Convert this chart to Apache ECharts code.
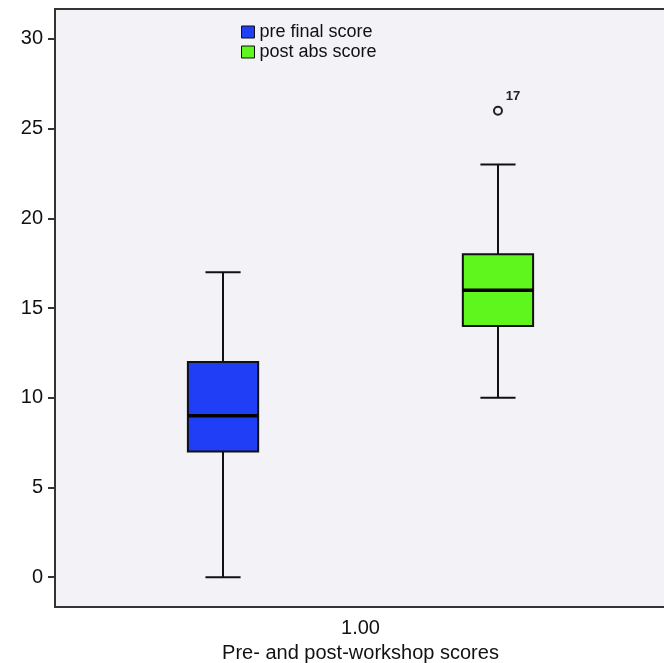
<!DOCTYPE html>
<html>
<head>
<meta charset="utf-8">
<script src="https://cdn.jsdelivr.net/npm/echarts@6/dist/echarts.min.js"></script>
<style>
html,body{margin:0;padding:0;background:#ffffff;}
#chart{width:664px;height:663px;}
</style>
</head>
<body>
<div id="chart"></div>
<script>
// ---- data ----
const xCategories = ['1.00'];
const seriesNames = ['pre final score', 'post abs score'];
// [min, Q1, median, Q3, max]
const preScores = [0, 7, 9, 12, 17];
const postScores = [10, 14, 16, 18, 23];
const outlierGroups = [1];
const outlierValues = [26];
const outlierLabels = ['17'];
const yTicks = [0, 5, 10, 15, 20, 25, 30];

// ---- layout / style constants ----
const GROUP_SHIFT = [-0.225, 0.225];
const BOX_FRAC = 0.115;
const COLORS = ['#1f3ef6', '#5ef61c'];
const FONT = 'Liberation Sans, Arial, sans-serif';

function boxRender(shift) {
  return function (params, api) {
    const cat = api.value(0);
    const band = api.size([1, 0])[0];
    const cx = api.coord([cat, 0])[0] + shift * band;
    const w = band * BOX_FRAC;
    const yy = v => api.coord([cat, v])[1];
    const yMin = yy(api.value(1)), yQ1 = yy(api.value(2)), yMed = yy(api.value(3)),
          yQ3 = yy(api.value(4)), yMax = yy(api.value(5));
    const ls = {stroke: '#111', lineWidth: 2};
    return {
      type: 'group',
      children: [
        {type: 'line', shape: {x1: cx, y1: yMax, x2: cx, y2: yQ3}, style: ls},
        {type: 'line', shape: {x1: cx, y1: yQ1, x2: cx, y2: yMin}, style: ls},
        {type: 'line', shape: {x1: cx - w / 4, y1: yMax, x2: cx + w / 4, y2: yMax}, style: ls},
        {type: 'line', shape: {x1: cx - w / 4, y1: yMin, x2: cx + w / 4, y2: yMin}, style: ls},
        {type: 'rect', shape: {x: cx - w / 2, y: yQ3, width: w, height: yQ1 - yQ3},
          style: {fill: api.visual('color'), stroke: '#111', lineWidth: 2}},
        {type: 'line', shape: {x1: cx - w / 2, y1: yMed, x2: cx + w / 2, y2: yMed},
          style: {stroke: '#000', lineWidth: 3.5}}
      ]
    };
  };
}

function outlierRender(params, api) {
  const g = api.value(0);
  const band = api.size([1, 0])[0];
  const p = api.coord([0, api.value(1)]);
  const cx = p[0] + GROUP_SHIFT[g] * band;
  return {
    type: 'group',
    children: [
      {type: 'circle', shape: {cx: cx, cy: p[1], r: 4}, style: {fill: 'none', stroke: '#222', lineWidth: 2}},
      {type: 'text', x: cx + 15, y: p[1] - 14,
        style: {text: outlierLabels[params.dataIndex], fill: '#222', font: 'bold 13px ' + FONT,
          align: 'center', verticalAlign: 'middle'}}
    ]
  };
}

const chart = echarts.init(document.getElementById('chart'), null, {renderer: 'canvas'});
chart.setOption({
  animation: false,
  backgroundColor: '#ffffff',
  grid: {left: 55, right: -2, top: 9, bottom: 56, show: true, containLabel: false,
    outerBoundsMode: 'none',
    backgroundColor: '#f2f2f7', borderColor: '#333', borderWidth: 2},
  legend: {
    orient: 'vertical', left: 236, top: 18,
    itemWidth: 13, itemHeight: 12, itemGap: 2,
    icon: 'rect',
    textStyle: {fontSize: 18, lineHeight: 18, color: '#111', fontFamily: FONT},
    data: seriesNames.map(n => ({name: n, itemStyle: {borderColor: '#111', borderWidth: 1}}))
  },
  xAxis: {
    type: 'category', data: xCategories, boundaryGap: true,
    name: 'Pre- and post-workshop scores', nameLocation: 'middle', nameGap: 36,
    nameTextStyle: {fontSize: 20, color: '#111', fontFamily: FONT},
    axisLine: {onZero: false, lineStyle: {color: '#333', width: 2}},
    axisTick: {alignWithLabel: true, length: 6, lineStyle: {color: '#333', width: 2}},
    axisLabel: {fontSize: 20, color: '#111', margin: 11, fontFamily: FONT},
    splitLine: {show: false}
  },
  yAxis: {
    type: 'value', min: -1.66, max: 31.67,
    axisLine: {show: true, onZero: false, lineStyle: {color: '#333', width: 2}},
    axisTick: {show: true, length: 7, customValues: yTicks, lineStyle: {color: '#333', width: 2}},
    axisLabel: {fontSize: 20, color: '#111', margin: 12, customValues: yTicks, fontFamily: FONT},
    splitLine: {show: false}
  },
  series: [
    {name: seriesNames[0], type: 'custom', renderItem: boxRender(GROUP_SHIFT[0]),
      itemStyle: {color: COLORS[0]}, data: [[0].concat(preScores)], z: 3},
    {name: seriesNames[1], type: 'custom', renderItem: boxRender(GROUP_SHIFT[1]),
      itemStyle: {color: COLORS[1]}, data: [[0].concat(postScores)], z: 3},
    {name: 'outliers', type: 'custom', renderItem: outlierRender,
      data: outlierGroups.map((g, i) => [g, outlierValues[i]]), z: 4}
  ]
});
</script>
</body>
</html>
